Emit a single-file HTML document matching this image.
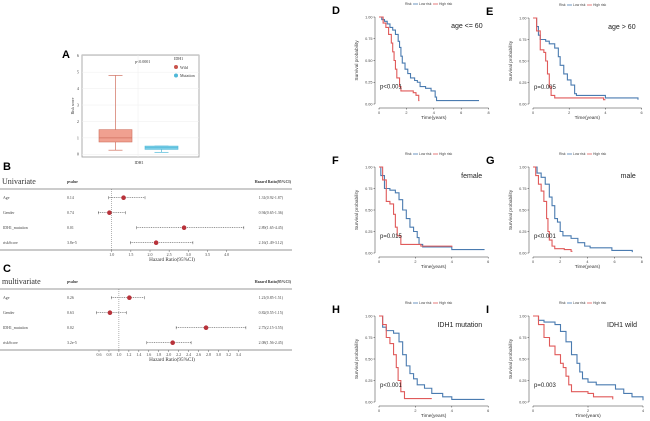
<!DOCTYPE html>
<html><head><meta charset="utf-8"><style>
html,body{margin:0;padding:0;background:#fff;}
svg{display:block;font-family:"Liberation Sans",sans-serif;}
.serif{font-family:"Liberation Serif",serif;}
</style></head><body>
<svg id="fig" width="650" height="421" viewBox="0 0 650 421">
 <g>
  <text x="62" y="58" font-size="11" font-weight="bold">A</text>
  <rect x="82" y="55" width="117" height="102" fill="#fff" stroke="#999" stroke-width="0.8"/>
  <g id="gA"></g>
  <text class="serif" x="135" y="63" font-size="4" fill="#333">p&lt;0.0001</text>
  <text class="serif" x="174" y="60" font-size="4" fill="#333">IDH1</text>
  <circle cx="176" cy="67" r="2" fill="#c9544c"/>
  <text class="serif" x="180" y="69" font-size="4" fill="#333">Wild</text>
  <circle cx="176" cy="75.5" r="2" fill="#4fb8d8"/>
  <text class="serif" x="180" y="77" font-size="4" fill="#333">Mutation</text>
  <text class="serif" x="139" y="164" font-size="4" text-anchor="middle" fill="#333">IDH1</text>
  <text class="serif" x="0" y="0" font-size="4" text-anchor="middle" fill="#333" transform="translate(74,106) rotate(-90)">Risk score</text>
 </g>
 <g id="gB">
  <text x="3" y="170" font-size="11" font-weight="bold">B</text>
  <text class="serif" x="2" y="184" font-size="8" fill="#333">Univariate</text>
 </g>
 <g id="gC">
  <text x="3" y="272" font-size="11" font-weight="bold">C</text>
  <text class="serif" x="2" y="284" font-size="8" fill="#333">multivariate</text>
 </g>
 <g id="gKM"></g>
</svg>
<script>
const NS="http://www.w3.org/2000/svg";
function mk(parent,tag,attrs,text){const e=document.createElementNS(NS,tag);for(const k in attrs)e.setAttribute(k,attrs[k]);if(text!==undefined)e.textContent=text;parent.appendChild(e);return e;}

const boxGroups=["Wild","Mutation"];
const boxMin=[0.25,0.12];
const boxQ1=[0.75,0.3];
const boxMed=[1.0,0.4];
const boxQ3=[1.5,0.5];
const boxMax=[4.8,0.5];
const aTicks=[0,1,2,3,4,5,6];
(function(){
 const g=document.getElementById('gA');
 const y=v=>154.3-v*16.43;
 const xc=[115.5,161.5], hw=16.5;
 const fill=["#f0a090","#7fd0e8"], stroke=["#d0705f","#4fb8d8"];
 aTicks.forEach(t=>{
  const l=mk(g,'line',{x1:82,x2:199,y1:y(t),y2:y(t),stroke:'#eee','stroke-width':0.5});
  
  
  const tk=mk(g,'text',{x:79,y:y(t)+1.4,'font-size':4.2,'text-anchor':'end',fill:'#444','class':'serif'},String(t));
  
  
 });
 mk(g,'line',{x1:138,x2:138,y1:55,y2:157,stroke:'#eee','stroke-width':0.5});
 boxGroups.forEach((n,i)=>{
  const b=mk(g,'g',{});
  
  
  mk(b,'line',{x1:xc[i],x2:xc[i],y1:y(boxMin[i]),y2:y(boxMax[i]),stroke:stroke[i],'stroke-width':0.7});
  mk(b,'line',{x1:xc[i]-7,x2:xc[i]+7,y1:y(boxMin[i]),y2:y(boxMin[i]),stroke:stroke[i],'stroke-width':0.7});
  mk(b,'line',{x1:xc[i]-7,x2:xc[i]+7,y1:y(boxMax[i]),y2:y(boxMax[i]),stroke:stroke[i],'stroke-width':0.7});
  mk(b,'rect',{x:xc[i]-hw,y:y(boxQ3[i]),width:2*hw,height:y(boxQ1[i])-y(boxQ3[i]),fill:fill[i],stroke:stroke[i],'stroke-width':0.6});
  mk(b,'line',{x1:xc[i]-hw,x2:xc[i]+hw,y1:y(boxMed[i]),y2:y(boxMed[i]),stroke:stroke[i],'stroke-width':0.8});
 });
})();

const fVars=["Age","Gender","IDH1_mutation","riskScore"];
const uniP=["0.14","0.74","0.01","3.8e-5"];
const uniHR=[1.31,0.94,2.89,2.16];
const uniLo=[0.92,0.65,1.65,1.49];
const uniHi=[1.87,1.36,4.45,3.12];
const uniTicks=[1.0,1.5,2.0,2.5,3.0,3.5,4.0];
const mulP=["0.26","0.63","0.02","3.2e-5"];
const mulHR=[1.21,0.82,2.75,2.08];
const mulLo=[0.85,0.55,2.15,1.56];
const mulHi=[1.51,1.15,3.55,2.45];
const mulTicks=[0.6,0.8,1.0,1.2,1.4,1.6,1.8,2.0,2.2,2.4,2.6,2.8,3.0,3.2,3.4];
function forest(gid,top,hr,lo,hi,pv,ticks,x,tag){
 const g=document.getElementById(gid);
 const rowY=[top+8.7,top+23.7,top+38.7,top+53.7], axisY=top+61;
 mk(g,'text',{x:67,y:top-6,'font-size':3.8,'font-weight':'bold','class':'serif',fill:'#333'},'pvalue');
 mk(g,'text',{x:291,y:top-6,'font-size':3.8,'font-weight':'bold','class':'serif',fill:'#333','text-anchor':'end'},'Hazard Ratio(95%CI)');
 mk(g,'line',{x1:0,x2:292,y1:top,y2:top,stroke:'#999','stroke-width':1});
 mk(g,'line',{x1:0,x2:292,y1:axisY,y2:axisY,stroke:'#aaa','stroke-width':1.2});
 mk(g,'line',{x1:x(1),x2:x(1),y1:top,y2:axisY,stroke:'#666','stroke-width':0.5,'stroke-dasharray':'1,1'});
 ticks.forEach(t=>{
  const l=mk(g,'line',{x1:x(t),x2:x(t),y1:axisY,y2:axisY+2,stroke:'#666','stroke-width':0.5});
  
  
  const tx=mk(g,'text',{x:x(t),y:axisY+6,'font-size':4,'text-anchor':'middle','class':'serif',fill:'#444'},t.toFixed(1));
  
  
 });
 const tt=mk(g,'text',{x:172,y:axisY+11,'font-size':5.2,'text-anchor':'middle','class':'serif',fill:'#333'},'Hazard Ratio(95%CI)');
 
 
 fVars.forEach((v,i)=>{
  const y=rowY[i];
  const r=mk(g,'g',{});
  
  
  mk(r,'text',{x:3,y:y+1.3,'font-size':3.9,'class':'serif',fill:'#444'},v);
  mk(r,'text',{x:67,y:y+1.3,'font-size':3.9,'class':'serif',fill:'#444'},pv[i]);
  mk(r,'text',{x:283,y:y+1.3,'font-size':3.9,'class':'serif',fill:'#444','text-anchor':'end'},hr[i].toFixed(2)+'('+lo[i].toFixed(2)+'-'+hi[i].toFixed(2)+')');
  mk(r,'line',{x1:x(lo[i]),x2:x(hi[i]),y1:y,y2:y,stroke:'#555','stroke-width':0.6,'stroke-dasharray':'1,0.8'});
  mk(r,'line',{x1:x(lo[i]),x2:x(lo[i]),y1:y-1.5,y2:y+1.5,stroke:'#555','stroke-width':0.5});
  mk(r,'line',{x1:x(hi[i]),x2:x(hi[i]),y1:y-1.5,y2:y+1.5,stroke:'#555','stroke-width':0.5});
  mk(r,'circle',{cx:x(hr[i]),cy:y,r:2.3,fill:'#b8323a'});
 });
}
forest('gB',189,uniHR,uniLo,uniHi,uniP,uniTicks,v=>111.7+(v-1)*38.3,'b');
forest('gC',289,mulHR,mulLo,mulHi,mulP,mulTicks,v=>118.9+(v-1)*49.8,'c');

const dLowT=[0,0.2,0.4,0.6,0.8,1.0,1.2,1.4,1.5,1.6,1.7,1.9,2.1,2.3,2.6,2.8,3.0,3.4,3.8,4.1,4.2,7.3];
const dLowS=[1,0.97,0.95,0.92,0.88,0.85,0.8,0.72,0.65,0.55,0.47,0.4,0.35,0.3,0.27,0.25,0.2,0.18,0.15,0.08,0.04,0.04];
const dHighT=[0,0.3,0.5,0.7,0.9,1.0,1.1,1.2,1.3,1.5,1.6,2.5,2.7,2.9,2.95];
const dHighS=[1,0.93,0.88,0.8,0.7,0.6,0.5,0.4,0.3,0.2,0.15,0.13,0.1,0.04,0.04];
const eLowT=[0,0.2,0.3,0.4,0.7,0.9,1.2,1.4,1.5,1.7,1.9,2.1,2.3,2.4,4.0,5.8];
const eLowS=[1,0.9,0.8,0.75,0.73,0.7,0.65,0.55,0.45,0.35,0.28,0.22,0.12,0.1,0.07,0.05];
const eHighT=[0,0.2,0.4,0.6,0.7,0.8,0.9,1.0,1.2,2.5,3.9,4.0];
const eHighS=[1,0.85,0.63,0.6,0.5,0.35,0.2,0.1,0.07,0.07,0.05,0.05];
const fLowT=[0,0.1,0.3,0.6,0.9,1.1,1.3,1.5,1.7,1.9,2.1,2.2,2.4,4.0,5.8];
const fLowS=[1,0.9,0.75,0.73,0.7,0.62,0.5,0.4,0.3,0.25,0.18,0.1,0.07,0.04,0.04];
const fHighT=[0,0.2,0.4,0.6,0.8,0.9,1.0,1.2,2.3,4.0];
const fHighS=[1,0.85,0.6,0.57,0.45,0.3,0.2,0.1,0.08,0.07];
const gLowT=[0,0.3,0.6,0.9,1.2,1.4,1.6,1.8,2.0,2.2,2.8,3.3,3.8,4.2,5.8,7.3];
const gLowS=[1,0.93,0.88,0.8,0.65,0.55,0.4,0.36,0.25,0.2,0.17,0.12,0.08,0.06,0.03,0.01];
const gHighT=[0,0.2,0.4,0.6,0.8,1.0,1.1,1.2,1.4,1.6,2.3,2.8,2.9];
const gHighS=[1,0.9,0.8,0.72,0.6,0.4,0.25,0.15,0.08,0.05,0.04,0.02,0.02];
const hLowT=[0,0.2,0.4,0.8,1.1,1.3,1.5,1.7,1.9,2.1,2.5,2.9,3.5,4.0,5.8];
const hLowS=[1,0.87,0.83,0.8,0.7,0.55,0.42,0.33,0.27,0.2,0.16,0.1,0.06,0.03,0.03];
const hHighT=[0,0.2,0.4,0.6,0.8,0.95,1.05,1.2,1.4,2.9];
const hHighS=[1,0.9,0.75,0.68,0.55,0.4,0.25,0.12,0.04,0.04];
const iLowT=[0,0.2,0.4,0.8,1.0,1.2,1.4,1.6,1.7,1.8,2.0,2.3,3.0,3.3,3.6,4.0];
const iLowS=[1,0.95,0.93,0.9,0.82,0.7,0.55,0.45,0.35,0.27,0.23,0.2,0.15,0.1,0.06,0.02];
const iHighT=[0,0.2,0.4,0.6,0.8,1.0,1.1,1.2,1.3,1.4,2.0,2.2,2.9];
const iHighS=[1,0.9,0.75,0.65,0.55,0.45,0.4,0.3,0.2,0.12,0.1,0.06,0.03];
const kmLabels=["age <= 60","age > 60","female","male","IDH1 mutation","IDH1 wild"];
const kmPvals=["p<0.001","p=0.005","p=0.015","p<0.001","p<0.001","p=0.003"];
const yTicksKM=[0,0.25,0.5,0.75,1.0];

const panels=[
 {L:'D',x0:379,ppy:13.7,xmax:8,step:2,yt:17,yb:104,lowT:dLowT,lowS:dLowS,highT:dHighT,highS:dHighS},
 {L:'E',x0:533,ppy:18.1,xmax:6,step:2,yt:18,yb:104,lowT:eLowT,lowS:eLowS,highT:eHighT,highS:eHighS},
 {L:'F',x0:379,ppy:18.2,xmax:6,step:2,yt:167,yb:253,lowT:fLowT,lowS:fLowS,highT:fHighT,highS:fHighS},
 {L:'G',x0:533,ppy:13.6,xmax:8,step:2,yt:167,yb:253,lowT:gLowT,lowS:gLowS,highT:gHighT,highS:gHighS},
 {L:'H',x0:379,ppy:18.2,xmax:6,step:2,yt:316,yb:402,lowT:hLowT,lowS:hLowS,highT:hHighT,highS:hHighS},
 {L:'I',x0:533,ppy:27.5,xmax:4,step:2,yt:316,yb:402,lowT:iLowT,lowS:iLowS,highT:iHighT,highS:iHighS}
];
const root=document.getElementById('gKM');
panels.forEach((p,k)=>{
 const g=mk(root,'g',{});
 
 
 const X=t=>p.x0+t*p.ppy, Y=s=>p.yb-s*(p.yb-p.yt);
 const lx=p.x0-47;
 const lab=mk(g,'text',{x:lx,y:p.yt-3,'font-size':11,'font-weight':'bold'},p.L);
 
 
 const lg=mk(g,'g',{});
 
 
 const ly=p.yt-13, lc=p.x0+26;
 mk(lg,'text',{x:lc,y:ly+1,'font-size':3.4,fill:'#444'},'Risk');
 mk(lg,'line',{x1:lc+8,x2:lc+13,y1:ly,y2:ly,stroke:'#4a7bb0','stroke-width':0.8});
 mk(lg,'text',{x:lc+14,y:ly+1,'font-size':3.4,fill:'#444'},'Low risk');
 mk(lg,'line',{x1:lc+28,x2:lc+33,y1:ly,y2:ly,stroke:'#e05a5a','stroke-width':0.8});
 mk(lg,'text',{x:lc+34,y:ly+1,'font-size':3.4,fill:'#444'},'High risk');
 const ax=p.x0-4, ay=p.yb+4;
 mk(g,'line',{x1:ax,x2:ax,y1:p.yt,y2:p.yb,stroke:'#333','stroke-width':0.5});
 mk(g,'line',{x1:p.x0,x2:X(p.xmax),y1:ay,y2:ay,stroke:'#333','stroke-width':0.5});
 yTicksKM.forEach(s=>{
  mk(g,'line',{x1:ax-1.5,x2:ax,y1:Y(s),y2:Y(s),stroke:'#333','stroke-width':0.5});
  const t=mk(g,'text',{x:ax-2.5,y:Y(s)+1.3,'font-size':3.8,'text-anchor':'end',fill:'#444'},s.toFixed(2));
  
  
 });
 for(let t=0;t<=p.xmax;t+=p.step){
  mk(g,'line',{x1:X(t),x2:X(t),y1:ay,y2:ay+1.5,stroke:'#333','stroke-width':0.5});
  const tx=mk(g,'text',{x:X(t),y:ay+6,'font-size':3.8,'text-anchor':'middle',fill:'#444'},String(t));
  
  
 }
 const xt=mk(g,'text',{x:(p.x0+X(p.xmax))/2,y:ay+11,'font-size':4.8,'text-anchor':'middle',fill:'#333'},'Time(years)');
 
 
 const yt=mk(g,'text',{x:0,y:0,'font-size':4.8,'text-anchor':'middle',fill:'#333',transform:'translate('+(ax-17)+','+((p.yt+p.yb)/2)+') rotate(-90)'},'Survival probability');
 
 
 [['low',p.lowT,p.lowS,'#4a7bb0'],['high',p.highT,p.highS,'#e05a5a']].forEach(c=>{
  let d='M'+X(c[1][0])+','+Y(c[2][0]);
  for(let i=1;i<c[1].length;i++){d+=' H'+X(c[1][i])+' V'+Y(c[2][i]);}
  const path=mk(g,'path',{d:d,fill:'none',stroke:c[3],'stroke-width':1.1});
  
  
 });
 const sub=mk(g,'text',{x:X(p.xmax)-6,y:p.yt+11,'font-size':7,'text-anchor':'end',fill:'#222'},kmLabels[k]);
 
 
 const pv=mk(g,'text',{x:p.x0+1,y:Y(0.2)+2,'font-size':6,fill:'#222'},kmPvals[k]);
 
 
});
</script>
</body></html>
